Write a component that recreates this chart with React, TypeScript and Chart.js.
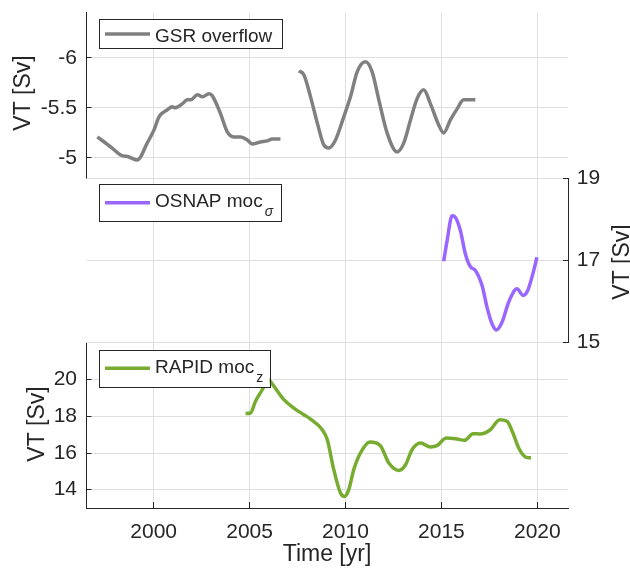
import React, { useEffect, useRef } from "react";
import { Chart, registerables } from "chart.js";

Chart.register(...registerables);

// ---------------- data ----------------
const xTickValues = [2000, 2005, 2010, 2015, 2020];
const X_MIN = 1996.5;
const X_MAX = 2021.6;

const gsrYearsA = [1997.07, 1997.76, 1998.28, 1998.71, 1999.15, 1999.67, 2000.02, 2000.28, 2000.71, 2000.97, 2001.1, 2001.49, 2001.75, 2001.93, 2002.28, 2002.54, 2002.88, 2003.06, 2003.49, 2003.84, 2004.18, 2004.53, 2004.88, 2005.14, 2005.57, 2005.92, 2006.18, 2006.61];
const gsrValuesA = [-5.21, -5.11, -5.03, -5.01, -4.98, -5.15, -5.28, -5.41, -5.48, -5.51, -5.5, -5.54, -5.58, -5.58, -5.63, -5.61, -5.64, -5.62, -5.44, -5.26, -5.21, -5.21, -5.18, -5.14, -5.16, -5.17, -5.19, -5.19];

const gsrYearsB = [2007.57, 2007.83, 2008.18, 2008.53, 2008.87, 2009.13, 2009.48, 2009.91, 2010.26, 2010.61, 2011.04, 2011.39, 2011.74, 2012.17, 2012.69, 2013.04, 2013.39, 2013.73, 2014.08, 2014.43, 2014.86, 2015.12, 2015.47, 2015.82, 2016.16, 2016.51, 2016.77];
const gsrValuesB = [-5.87, -5.83, -5.61, -5.35, -5.13, -5.1, -5.18, -5.41, -5.61, -5.86, -5.96, -5.86, -5.58, -5.25, -5.06, -5.15, -5.38, -5.59, -5.68, -5.54, -5.33, -5.25, -5.38, -5.49, -5.58, -5.58, -5.58];

const osnapYears = [2015.12, 2015.3, 2015.56, 2015.73, 2015.99, 2016.25, 2016.51, 2016.77, 2017.12, 2017.38, 2017.64, 2017.86, 2018.16, 2018.51, 2018.94, 2019.26, 2019.5, 2019.77, 2019.98];
const osnapValues = [16.98, 17.49, 18.09, 18.05, 17.73, 17.16, 16.85, 16.76, 16.39, 15.86, 15.46, 15.31, 15.5, 15.99, 16.31, 16.15, 16.27, 16.68, 17.08];

const rapidYears = [2004.79, 2005.05, 2005.31, 2005.66, 2005.97, 2006.12, 2006.79, 2007.31, 2007.83, 2008.18, 2008.79, 2009.05, 2009.39, 2009.74, 2009.95, 2010.17, 2010.43, 2010.78, 2011.27, 2011.82, 2012.26, 2012.78, 2013.13, 2013.47, 2013.91, 2014.43, 2014.77, 2015.26, 2015.82, 2016.2, 2016.65, 2017.0, 2017.55, 2018.04, 2018.42, 2018.73, 2019.03, 2019.38, 2019.67];
const rapidValues = [18.15, 18.18, 18.82, 19.45, 20.02, 19.85, 18.91, 18.45, 18.09, 17.85, 17.27, 16.73, 15.09, 13.82, 13.63, 14.0, 15.09, 16.0, 16.6, 16.4, 15.45, 15.05, 15.36, 16.18, 16.55, 16.33, 16.4, 16.82, 16.76, 16.69, 17.05, 17.04, 17.27, 17.82, 17.73, 17.09, 16.27, 15.78, 15.73];

const gsrTicks = [-6, -5.5, -5];
const osnapTicks = [15, 17, 19];
const rapidTicks = [14, 16, 18, 20];

// ---------------- styles ----------------
const FONT = '"Liberation Sans", Arial, Helvetica, sans-serif';
const TXT = "#262626";
const GRID = "#dfdfdf";
const GRAY = "#808080";
const PURPLE = "#9966ff";
const GREEN = "#77ac30";
const W = 630;
const H = 569;
const LEFT = 86.5;
const RIGHT_W = 62;

const toPts = (xs: number[], ys: number[]) => xs.map((x, i) => ({ x, y: ys[i] }));

function lineDs(label: string, xs: number[], ys: number[], color: string) {
  return {
    label,
    data: toPts(xs, ys),
    borderColor: color,
    backgroundColor: color,
    borderWidth: 3.5,
    pointRadius: 0,
    cubicInterpolationMode: "monotone",
    fill: false,
  };
}

function zeroPad(s: any) {
  s.paddingTop = 0;
  s.paddingBottom = 0;
  s.paddingLeft = 0;
  s.paddingRight = 0;
}

function xScale(show: boolean) {
  return {
    type: "linear",
    min: X_MIN,
    max: X_MAX,
    afterBuildTicks: (s: any) => {
      s.ticks = xTickValues.map((v) => ({ value: v }));
    },
    grid: { color: GRID, lineWidth: 1, drawTicks: show, tickLength: -6, tickColor: TXT },
    border: { display: show, color: TXT, width: 1 },
    ticks: {
      display: show,
      padding: 18,
      color: TXT,
      font: { family: FONT, size: 21 },
      maxRotation: 0,
      autoSkip: false,
      callback: (v: any) => String(v),
    },
    afterFit: (s: any) => {
      s.height = show ? 61 : 0;
      zeroPad(s);
    },
  };
}

function yScale(pos: string, min: number, max: number, ticks: number[], reverse: boolean, width: number, pad: number) {
  return {
    type: "linear",
    position: pos,
    min,
    max,
    reverse,
    afterBuildTicks: (s: any) => {
      s.ticks = ticks.map((v) => ({ value: v }));
    },
    grid: { color: GRID, lineWidth: 1, drawTicks: true, tickLength: -5, tickColor: TXT },
    border: { display: true, color: TXT, width: 1 },
    ticks: {
      padding: pad,
      color: TXT,
      font: { family: FONT, size: 21 },
      callback: (v: any) => String(v),
    },
    afterFit: (s: any) => {
      s.width = width;
      zeroPad(s);
    },
  };
}

function vTitle(ctx: CanvasRenderingContext2D, text: string, x: number, y: number) {
  ctx.save();
  ctx.translate(x, y);
  ctx.rotate(-Math.PI / 2);
  ctx.font = `23px ${FONT}`;
  ctx.fillStyle = TXT;
  ctx.textAlign = "center";
  ctx.textBaseline = "middle";
  ctx.fillText(text, 0, 0);
  ctx.restore();
}

function drawLegend(
  ctx: CanvasRenderingContext2D,
  box: [number, number, number, number],
  color: string,
  lineY: number,
  main: string,
  baseline: number,
  sub?: string,
  subItalic?: boolean,
  subBaseline?: number
) {
  ctx.save();
  const [bx, by, bw, bh] = box;
  ctx.fillStyle = "#ffffff";
  ctx.fillRect(bx, by, bw, bh);
  ctx.strokeStyle = TXT;
  ctx.lineWidth = 1;
  ctx.strokeRect(Math.round(bx) + 0.5, Math.round(by) + 0.5, Math.round(bw), Math.round(bh));
  ctx.strokeStyle = color;
  ctx.lineWidth = 3.5;
  ctx.beginPath();
  ctx.moveTo(105, lineY);
  ctx.lineTo(150, lineY);
  ctx.stroke();
  ctx.fillStyle = TXT;
  ctx.font = `19px ${FONT}`;
  ctx.textAlign = "left";
  ctx.textBaseline = "alphabetic";
  ctx.fillText(main, 155, baseline);
  if (sub) {
    const w = ctx.measureText(main).width;
    ctx.font = `${subItalic ? "italic " : ""}14px ${FONT}`;
    ctx.fillText(sub, 155 + w + 2, subBaseline as number);
  }
  ctx.restore();
}

function overlay(id: string, draw: (ctx: CanvasRenderingContext2D) => void) {
  return {
    id,
    afterDraw(chart: any) {
      const ctx = chart.ctx as CanvasRenderingContext2D;
      ctx.save();
      draw(ctx);
      ctx.restore();
    },
  };
}

function makeConfig(datasets: any[], scales: any, padding: any, plugin: any) {
  return {
    type: "line",
    data: { datasets },
    options: {
      responsive: false,
      maintainAspectRatio: false,
      animation: false,
      devicePixelRatio: 1,
      layout: { padding },
      plugins: { legend: { display: false }, title: { display: false }, tooltip: { enabled: false } },
      scales,
    },
    plugins: [plugin],
  } as any;
}

export default function App() {
  const topRef = useRef<HTMLCanvasElement>(null);
  const midRef = useRef<HTMLCanvasElement>(null);
  const botRef = useRef<HTMLCanvasElement>(null);

  useEffect(() => {
    const charts: Chart[] = [];

    charts.push(
      new Chart(
        topRef.current as HTMLCanvasElement,
        makeConfig(
          [lineDs("GSR overflow", gsrYearsA, gsrValuesA, GRAY), lineDs("GSR overflow b", gsrYearsB, gsrValuesB, GRAY)],
          { x: xScale(false), y: yScale("left", -6.45, -4.8, gsrTicks, true, LEFT, 14.5) },
          { top: 12.7, left: 0, right: RIGHT_W, bottom: H - 178 },
          overlay("topOverlay", (ctx) => {
            vTitle(ctx, "VT [Sv]", 24, 93);
            drawLegend(ctx, [99, 19, 183, 29], GRAY, 34, "GSR overflow", 42.3);
          })
        )
      )
    );

    charts.push(
      new Chart(
        midRef.current as HTMLCanvasElement,
        makeConfig(
          [lineDs("OSNAP moc", osnapYears, osnapValues, PURPLE)],
          { x: xScale(false), y: yScale("right", 15, 19, osnapTicks, false, RIGHT_W, 13.7) },
          { top: 178.3, left: LEFT, right: 0, bottom: H - 342.7 },
          overlay("midOverlay", (ctx) => {
            vTitle(ctx, "VT [Sv]", 623, 262);
            drawLegend(ctx, [98.5, 184.3, 181.5, 37.4], PURPLE, 202.7, "OSNAP moc", 207.3, "σ", true, 216);
          })
        )
      )
    );

    charts.push(
      new Chart(
        botRef.current as HTMLCanvasElement,
        makeConfig(
          [lineDs("RAPID moc", rapidYears, rapidValues, GREEN)],
          { x: xScale(true), y: yScale("left", 13, 22, rapidTicks, false, LEFT, 14.5) },
          { top: 343, left: 0, right: RIGHT_W, bottom: 0 },
          overlay("botOverlay", (ctx) => {
            vTitle(ctx, "VT [Sv]", 37.5, 424);
            ctx.font = `23px ${FONT}`;
            ctx.fillStyle = TXT;
            ctx.textAlign = "center";
            ctx.textBaseline = "middle";
            ctx.fillText("Time [yr]", 327, 555);
            drawLegend(ctx, [98.5, 350, 171, 37.3], GREEN, 368.3, "RAPID moc", 372.7, "z", false, 381.7);
          })
        )
      )
    );

    return () => {
      charts.forEach((c) => c.destroy());
    };
  }, []);

  const cs: React.CSSProperties = { position: "absolute", left: 0, top: 0, width: W, height: H };
  return (
    <div style={{ position: "absolute", left: 0, top: 0, width: W, height: H, background: "#ffffff", overflow: "hidden" }}>
      <canvas ref={topRef} width={W} height={H} style={cs} />
      <canvas ref={midRef} width={W} height={H} style={cs} />
      <canvas ref={botRef} width={W} height={H} style={cs} />
    </div>
  );
}
